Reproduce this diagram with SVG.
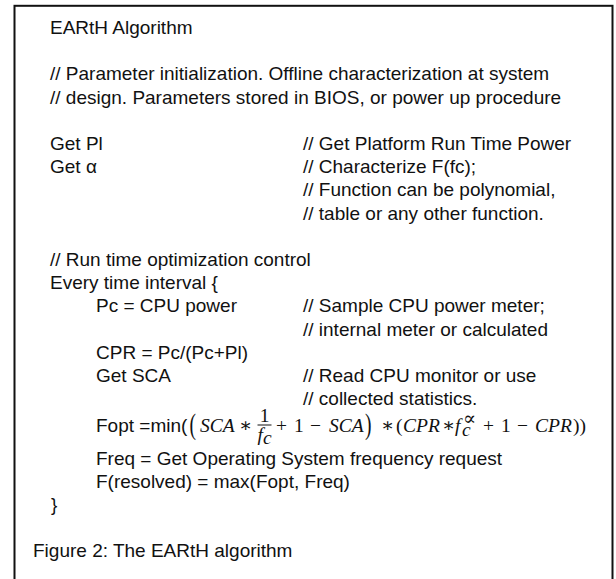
<svg xmlns="http://www.w3.org/2000/svg" width="616" height="579" viewBox="0 0 616 579">
  <style>
    .t { font-family: "Liberation Sans", Arial, sans-serif; font-size: 19px; fill: #111; }
    .m { font-family: "Liberation Serif", "DejaVu Serif", serif; font-size: 19.5px; fill: #111; }
    .mi { font-style: italic; }
  </style>
  <rect width="616" height="579" fill="#fff"/>
  <!-- frame: open at the bottom -->
  <rect x="14.5" y="5.8" width="598" height="620" fill="none" stroke="#111" stroke-width="2"/>

  <g id="title">
    <text class="t" x="50" y="34">EARtH Algorithm</text>
  </g>

  <g id="init-comment">
    <text class="t" x="50" y="80.4">// Parameter initialization. Offline characterization at system</text>
    <text class="t" x="50" y="103.6">// design. Parameters stored in BIOS, or power up procedure</text>
  </g>

  <g id="params">
    <text class="t" x="50" y="150">Get Pl</text>
    <text class="t" x="303" y="150">// Get Platform Run Time Power</text>
    <text class="t" x="50" y="173.2">Get α</text>
    <text class="t" x="303" y="173.2">// Characterize F(fc);</text>
    <text class="t" x="303" y="196.4">// Function can be polynomial,</text>
    <text class="t" x="303" y="219.6">// table or any other function.</text>
  </g>

  <g id="runtime">
    <text class="t" x="50" y="266">// Run time optimization control</text>
    <text class="t" x="50" y="289.2">Every time interval {</text>
    <text class="t" x="96" y="312.4">Pc = CPU power</text>
    <text class="t" x="303" y="312.4">// Sample CPU power meter;</text>
    <text class="t" x="303" y="335.6">// internal meter or calculated</text>
    <text class="t" x="96" y="358.8">CPR = Pc/(Pc+Pl)</text>
    <text class="t" x="96" y="382">Get SCA</text>
    <text class="t" x="303" y="382">// Read CPU monitor or use</text>
    <text class="t" x="303" y="405.2">// collected statistics.</text>
  </g>

  <g id="fopt">
    <text class="t" x="96" y="432">Fopt =min(</text>
    <!-- tall grouping parentheses -->
    <text class="m" transform="translate(189.5,434) scale(1,1.55)">(</text>
    <text class="m" transform="translate(365,434) scale(1,1.55)">)</text>
    <text class="m" y="432"><tspan class="mi" x="200">SCA</tspan><tspan x="239">∗</tspan><tspan x="276">+</tspan><tspan x="294">1</tspan><tspan x="310">−</tspan><tspan class="mi" x="329">SCA</tspan><tspan x="381">∗</tspan><tspan x="396">(</tspan><tspan class="mi" x="403">CPR</tspan><tspan x="442">∗</tspan><tspan x="483">+</tspan><tspan x="501">1</tspan><tspan x="517">−</tspan><tspan class="mi" x="535">CPR</tspan><tspan x="573">))</tspan></text>
    <!-- 1 / f_c -->
    <text class="m" x="264.5" y="421.5" font-size="13" text-anchor="middle">1</text>
    <line x1="257.5" y1="425" x2="271.5" y2="425" stroke="#111" stroke-width="1"/>
    <text class="m mi" x="257.5" y="441" font-size="15">f</text>
    <text class="m mi" x="263" y="444" font-size="11">c</text>
    <!-- f_c raised to alpha -->
    <text class="m mi" x="455" y="432">f</text>
    <text class="m mi" x="462" y="436" font-size="12">c</text>
    <text class="m" x="463" y="424.5" font-size="11">∝</text>
  </g>

  <g id="resolve">
    <text class="t" x="96" y="465">Freq = Get Operating System frequency request</text>
    <text class="t" x="96" y="488.2">F(resolved) = max(Fopt, Freq)</text>
    <text class="t" x="51" y="511.4">}</text>
  </g>

  <g id="caption">
    <text class="t" x="33" y="557">Figure 2: The EARtH algorithm</text>
  </g>
</svg>
